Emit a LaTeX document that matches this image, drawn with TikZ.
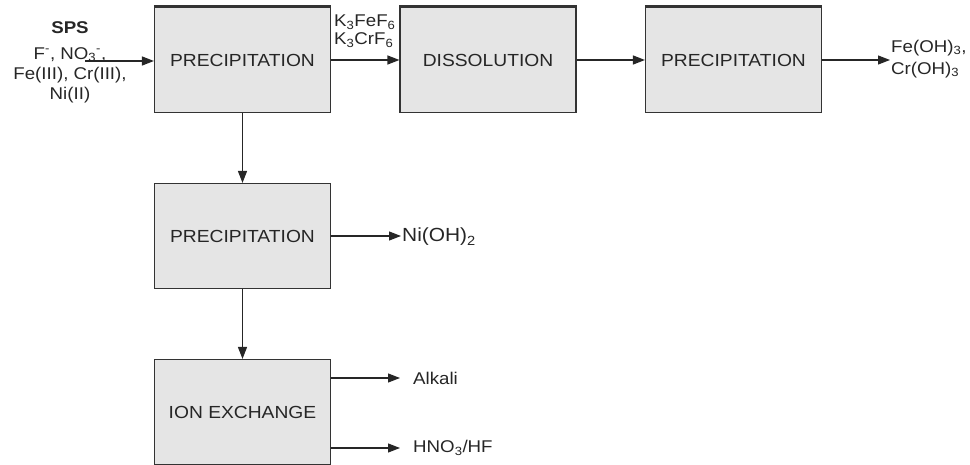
\documentclass[tikz,border=0pt]{standalone}
\usepackage{fontspec}
\setmainfont{Liberation Sans}[FakeStretch=1.1]
\usetikzlibrary{arrows.meta, positioning}

\begin{document}
\begin{tikzpicture}[x=1pt, y=-1pt,
    unit/.style={rectangle, draw=black!80, line width=1.1pt, fill=black!10, text=black!85, minimum width=176pt, minimum height=105pt, inner sep=0pt, font=\fontsize{17.5}{20}\selectfont},
    topedge/.style={draw=black!80, line width=3pt},
    flow/.style={draw=black!85, line width=1.2pt, -{Triangle[length=12pt, width=9pt]}},
    chem/.style={inner sep=1pt, align=left, text=black!85, font=\fontsize{17}{20}\selectfont}
]
    \useasboundingbox (0,0) rectangle (970,465);

    % --- Process units ---
    \node[unit] (prec1) at (242.5,60) {PRECIPITATION};
    \node[unit] (diss) at (488,60) {DISSOLUTION};
    \node[unit] (prec3) at (733.5,60) {PRECIPITATION};
    \node[unit] (prec2) at (242.5,236) {PRECIPITATION};
    \node[unit] (ionx) at (242.5,412) {ION EXCHANGE};
    \foreach \b in {prec1,diss,prec3}
        \draw[topedge] (\b.north west) -- (\b.north east);

    % --- Feed ---
    \node[chem, align=center] (sps) at (70,62) {\textbf{SPS}\\[6pt]F\textsuperscript{-}, NO\textsubscript{3}\textsuperscript{-},\\Fe(III), Cr(III),\\Ni(II)};
    \coordinate (feed) at (85,61);
    \draw[flow] (feed) -- (feed -| prec1.west);

    % --- Main line ---
    \draw[flow] (prec1) -- (diss);
    \node[chem, anchor=west, font=\fontsize{17}{18}\selectfont] (fluo) at (333,31) {K\textsubscript{3}FeF\textsubscript{6}\\K\textsubscript{3}CrF\textsubscript{6}};
    \draw[flow] (diss) -- (prec3);
    \node[chem, anchor=west, font=\fontsize{17}{22}\selectfont] (hydrox) at (890,59) {Fe(OH)\textsubscript{3},\\Cr(OH)\textsubscript{3}};
    \draw[flow] (prec3.east) -- (prec3.east -| hydrox.west);

    % --- Nickel and ion exchange ---
    \draw[flow] (prec1) -- (prec2);
    \node[chem, anchor=west, font=\fontsize{19}{22}\selectfont] (nioh) at (401,237) {Ni(OH)\textsubscript{2}};
    \draw[flow] (prec2.east) -- (prec2.east -| nioh.west);
    \draw[flow] (prec2) -- (ionx);
    \node[chem, anchor=west] (alk) at (412,378) {Alkali};
    \node[chem, anchor=west] (acid) at (412,448) {HNO\textsubscript{3}/HF};
    \draw[flow] (ionx.east |- alk.west) -- ([xshift=-12pt]alk.west);
    \draw[flow] (ionx.east |- acid.west) -- ([xshift=-12pt]acid.west);

\end{tikzpicture}
\end{document}
